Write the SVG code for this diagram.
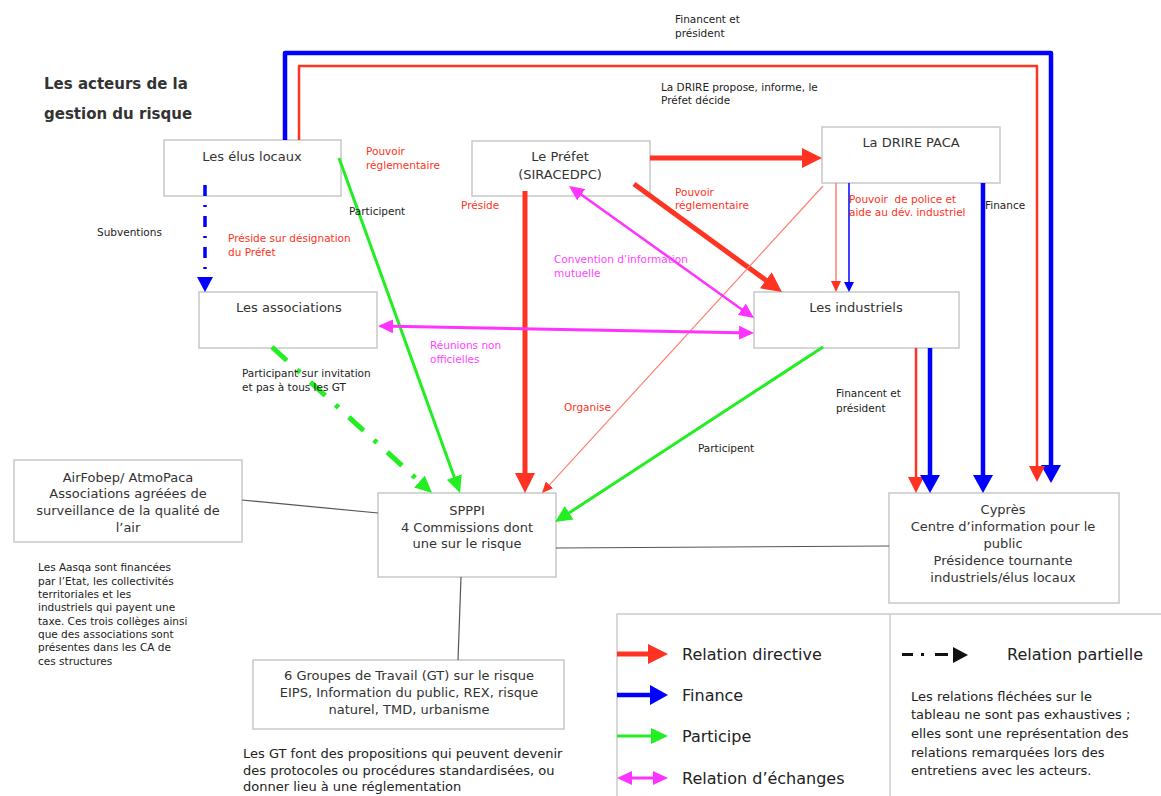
<svg xmlns="http://www.w3.org/2000/svg" width="1161" height="796" viewBox="0 0 1161 796">
<style>
text{font-family:"DejaVu Sans","Liberation Sans",sans-serif;}
.box{fill:#fff;stroke:#c8c8c8;stroke-width:1.5;}
.n{font-size:13px;fill:#333;text-anchor:middle;}
.t{font-size:15px;font-weight:bold;fill:#333;}
.s{font-size:10.5px;fill:#222;}
.r{fill:#ff3322;}
.m{fill:#ff44ff;}
.p{font-size:13px;fill:#222;}
.lg{font-size:16px;fill:#222;}
.red{stroke:#ff3322;fill:none;}
.blue{stroke:#0000ff;fill:none;}
.green{stroke:#22ee22;fill:none;}
.mag{stroke:#ff33ff;fill:none;}
.sal{stroke:#ff7f6e;fill:none;}
.gray{stroke:#555;stroke-width:1.2;fill:none;}
</style>
<defs>
<marker id="mRedL" markerUnits="userSpaceOnUse" viewBox="0 0 20 20" markerWidth="20" markerHeight="20" refX="1" refY="10" orient="auto"><path d="M0,0 L20,10 L0,20 z" fill="#ff3322"/></marker>
<marker id="mRedM" markerUnits="userSpaceOnUse" viewBox="0 0 16 16" markerWidth="16" markerHeight="16" refX="1" refY="8" orient="auto"><path d="M0,0 L16,8 L0,16 z" fill="#ff3322"/></marker>
<marker id="mRedS" markerUnits="userSpaceOnUse" viewBox="0 0 11 10" markerWidth="11" markerHeight="10" refX="1" refY="5" orient="auto"><path d="M0,0 L11,5 L0,10 z" fill="#ff3322"/></marker>
<marker id="mBlueL" markerUnits="userSpaceOnUse" viewBox="0 0 18 20" markerWidth="18" markerHeight="20" refX="1" refY="10" orient="auto"><path d="M0,0 L18,10 L0,20 z" fill="#0000ff"/></marker>
<marker id="mBlueS" markerUnits="userSpaceOnUse" viewBox="0 0 10 10" markerWidth="10" markerHeight="10" refX="1" refY="5" orient="auto"><path d="M0,0 L10,5 L0,10 z" fill="#0000ff"/></marker>
<marker id="mBlueD" markerUnits="userSpaceOnUse" viewBox="0 0 15 16" markerWidth="15" markerHeight="16" refX="1" refY="8" orient="auto"><path d="M0,0 L15,8 L0,16 z" fill="#0000ff"/></marker>
<marker id="mGreen" markerUnits="userSpaceOnUse" viewBox="0 0 17 16" markerWidth="17" markerHeight="16" refX="1" refY="8" orient="auto"><path d="M0,0 L17,8 L0,16 z" fill="#22ee22"/></marker>
<marker id="mMag" markerUnits="userSpaceOnUse" viewBox="0 0 15 14" markerWidth="15" markerHeight="14" refX="1" refY="7" orient="auto-start-reverse"><path d="M0,0 L15,7 L0,14 z" fill="#ff33ff"/></marker>
</defs>
<rect width="1161" height="796" fill="#fff"/>

<text class="t" x="44" y="89">Les acteurs de la</text>
<text class="t" x="44" y="119">gestion du risque</text>

<g id="elus"><rect class="box" x="164" y="140" width="177" height="56"/><text class="n" x="252" y="161">Les élus locaux</text></g>
<g id="prefet"><rect class="box" x="472" y="141" width="178" height="55"/><text class="n" x="560" y="161">Le Préfet</text><text class="n" x="560" y="179">(SIRACEDPC)</text></g>
<g id="drire"><rect class="box" x="822" y="127" width="178" height="56"/><text class="n" x="911" y="147">La DRIRE PACA</text></g>
<g id="associations"><rect class="box" x="199" y="292" width="178" height="56"/><text class="n" x="289" y="312">Les associations</text></g>
<g id="industriels"><rect class="box" x="754" y="292" width="205" height="56"/><text class="n" x="856" y="312">Les industriels</text></g>
<g id="spppi"><rect class="box" x="378" y="493" width="178" height="84"/><text class="n" x="467" y="515">SPPPI</text><text class="n" x="467" y="532">4 Commissions dont</text><text class="n" x="467" y="548">une sur le risque</text></g>
<g id="airfobep"><rect class="box" x="14" y="460" width="228" height="82"/><text class="n" x="128" y="482">AirFobep/ AtmoPaca</text><text class="n" x="128" y="498">Associations agréées de</text><text class="n" x="128" y="515">surveillance de la qualité de</text><text class="n" x="128" y="532">l’air</text></g>
<g id="cypres"><rect class="box" x="889" y="493" width="230" height="110"/><text class="n" x="1003" y="514">Cyprès</text><text class="n" x="1003" y="531">Centre d’information pour le</text><text class="n" x="1003" y="548">public</text><text class="n" x="1003" y="565">Présidence tournante</text><text class="n" x="1003" y="582">industriels/élus locaux</text></g>
<g id="gt"><rect class="box" x="253" y="660" width="311" height="69"/><text class="n" x="409" y="680">6 Groupes de Travail (GT) sur le risque</text><text class="n" x="409" y="697">EIPS, Information du public, REX, risque</text><text class="n" x="409" y="714">naturel, TMD, urbanisme</text></g>

<g id="connectors">
<path class="blue" stroke-width="4.5" stroke-linejoin="round" d="M285,140 V53 H1051 V466" marker-end="url(#mBlueL)"/>
<path class="red" stroke-width="2.5" stroke-linejoin="round" d="M299,140 V66 H1037 V467" marker-end="url(#mRedM)"/>
<path class="red" stroke-width="5" d="M650,158 H803" marker-end="url(#mRedL)"/>
<path class="red" stroke-width="5" d="M634,184 L766.6,280.8" marker-end="url(#mRedL)"/>
<path class="red" stroke-width="5" d="M525,191 V474" marker-end="url(#mRedL)"/>
<path class="sal" stroke-width="1.2" d="M823,186 L548.8,485.6" marker-end="url(#mRedS)"/>
<path class="sal" stroke-width="1.5" d="M836,183 V282" marker-end="url(#mRedS)"/>
<path class="blue" stroke-width="1.5" d="M849,183 V283" marker-end="url(#mBlueS)"/>
<path class="blue" stroke-width="4.5" d="M983,183 V476" marker-end="url(#mBlueL)"/>
<path class="red" stroke-width="2.5" d="M916,348 V478" marker-end="url(#mRedM)"/>
<path class="blue" stroke-width="4.5" d="M930,348 V476" marker-end="url(#mBlueL)"/>
<path class="green" stroke-width="3" d="M823,347 L568.4,513.3" marker-end="url(#mGreen)"/>
<path class="green" stroke-width="3" d="M339,158 L454.6,478" marker-end="url(#mGreen)"/>
<path class="green" stroke-width="5" stroke-dasharray="20 14 4 14" d="M272,347 L420.2,482.2" marker-end="url(#mGreen)"/>
<path class="blue" stroke-width="3.5" stroke-dasharray="11 9 2 9" d="M205,185 V278" marker-end="url(#mBlueD)"/>
<path class="mag" stroke-width="3" d="M392,326.3 L740,332.7" marker-start="url(#mMag)" marker-end="url(#mMag)"/>
<path class="mag" stroke-width="2.5" d="M580.4,194.1 L742.6,309.9" marker-start="url(#mMag)" marker-end="url(#mMag)"/>
<path class="gray" d="M242,500 L378,513"/>
<path class="gray" d="M556,548 L889,546"/>
<path class="gray" d="M461,577 L458,660"/>
</g>

<g id="labels">
<text class="s" x="675" y="23">Financent et</text><text class="s" x="675" y="37">président</text>
<text class="s" x="661" y="91">La DRIRE propose, informe, le</text><text class="s" x="661" y="104">Préfet décide</text>
<text class="s r" x="366" y="155">Pouvoir</text><text class="s r" x="366" y="169">réglementaire</text>
<text class="s" x="349" y="215">Participent</text>
<text class="s" x="97" y="236">Subventions</text>
<text class="s r" x="228" y="242">Préside sur désignation</text><text class="s r" x="228" y="256">du Préfet</text>
<text class="s r" x="461" y="209">Préside</text>
<text class="s r" x="675" y="196">Pouvoir</text><text class="s r" x="675" y="209">réglementaire</text>
<text class="s r" x="849" y="203" xml:space="preserve">Pouvoir  de police et</text><text class="s r" x="849" y="216">aide au dév. industriel</text>
<text class="s" x="985" y="209">Finance</text>
<text class="s m" x="554" y="263">Convention d’information</text><text class="s m" x="554" y="277">mutuelle</text>
<text class="s m" x="430" y="349">Réunions non</text><text class="s m" x="430" y="363">officielles</text>
<text class="s" x="242" y="377">Participant sur invitation</text><text class="s" x="242" y="391">et pas à tous les GT</text>
<text class="s r" x="564" y="411">Organise</text>
<text class="s" x="836" y="397">Financent et</text><text class="s" x="836" y="412">président</text>
<text class="s" x="698" y="452">Participent</text>
<text class="s" x="38" y="571">Les Aasqa sont financées</text>
<text class="s" x="38" y="584.5">par l’Etat, les collectivités</text>
<text class="s" x="38" y="598">territoriales et les</text>
<text class="s" x="38" y="611">industriels qui payent une</text>
<text class="s" x="38" y="624.5">taxe. Ces trois collèges ainsi</text>
<text class="s" x="38" y="638">que des associations sont</text>
<text class="s" x="38" y="651">présentes dans les CA de</text>
<text class="s" x="38" y="665">ces structures</text>
<text class="p" x="243" y="758">Les GT font des propositions qui peuvent devenir</text>
<text class="p" x="243" y="775">des protocoles ou procédures standardisées, ou</text>
<text class="p" x="243" y="791">donner lieu à une réglementation</text>
</g>

<g id="legend">
<rect x="617" y="614" width="560" height="200" fill="none" stroke="#cccccc" stroke-width="1.5"/>
<line x1="890" y1="614" x2="890" y2="796" stroke="#cccccc" stroke-width="1.5"/>
<path class="red" stroke-width="5" d="M617,654 H649" marker-end="url(#mRedL)"/>
<path class="blue" stroke-width="4.5" d="M617,695 H651" marker-end="url(#mBlueL)"/>
<path class="green" stroke-width="3" d="M617,736 H652" marker-end="url(#mGreen)"/>
<path class="mag" stroke-width="3" d="M631,778 H654" marker-start="url(#mMag)" marker-end="url(#mMag)"/>
<text class="lg" x="682" y="660">Relation directive</text>
<text class="lg" x="682" y="701">Finance</text>
<text class="lg" x="682" y="742">Participe</text>
<text class="lg" x="682" y="784">Relation d’échanges</text>
<rect x="902" y="653" width="11" height="3" fill="#111"/>
<rect x="921" y="653" width="3" height="3" fill="#111"/>
<rect x="935" y="653" width="13" height="3" fill="#111"/>
<path d="M953,647 L968,655 L953,663 z" fill="#111"/>
<text class="lg" x="1007" y="660">Relation partielle</text>
<text class="p" x="911" y="701">Les relations fléchées sur le</text>
<text class="p" x="911" y="719">tableau ne sont pas exhaustives ;</text>
<text class="p" x="911" y="738">elles sont une représentation des</text>
<text class="p" x="911" y="757">relations remarquées lors des</text>
<text class="p" x="911" y="775">entretiens avec les acteurs.</text>
</g>
</svg>
